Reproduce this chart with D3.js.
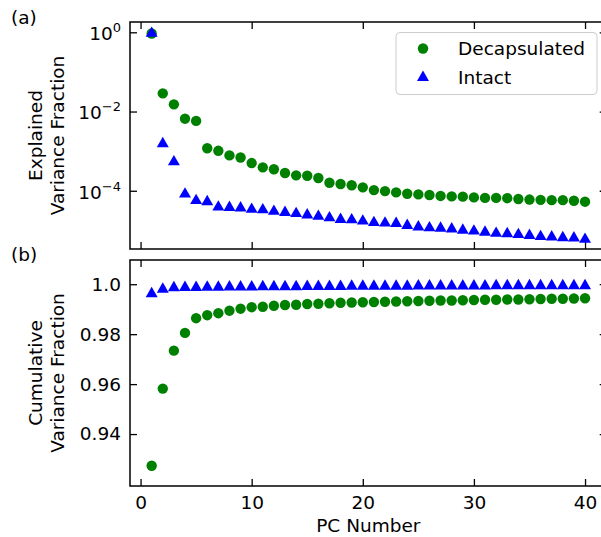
<!DOCTYPE html>
<html>
<head>
<meta charset="utf-8">
<script src="https://cdn.jsdelivr.net/npm/d3@7"></script>
<style>
  body { margin: 0; background: #fff; }
  svg { display: block; font-family: "DejaVu Sans", sans-serif; }
  .tick line { stroke: #000; stroke-width: 1.3; }
</style>
</head>
<body>
<div id="chart"></div>
<script>
// ---- data ----
const pcNumbers = [1, 2, 3, 4, 5, 6, 7, 8, 9, 10, 11, 12, 13, 14, 15, 16, 17, 18, 19, 20,
                   21, 22, 23, 24, 25, 26, 27, 28, 29, 30, 31, 32, 33, 34, 35, 36, 37, 38, 39, 40];

const decapExplained = [0.93, 0.0288, 0.0152, 0.0066, 0.0058, 0.00118, 0.00102, 0.00078, 0.00069, 0.00050,
                        0.00039, 0.00035, 0.00028, 0.000245, 0.00024, 0.00021, 0.000159, 0.000148, 0.000138, 0.000122,
                        0.000104, 0.000098, 0.000091, 0.000084, 0.000081, 0.000078, 0.000074, 0.000072, 0.000071, 0.000068,
                        0.000066, 0.000066, 0.000065, 0.000062, 0.000060, 0.000059, 0.000058, 0.000058, 0.000056, 0.000053];

const intactExplained = [0.9965, 0.00163, 0.00057, 0.000087, 0.000060, 0.000056, 0.000041, 0.000040, 0.000039, 0.000036,
                         0.000035, 0.000032, 0.000030, 0.000028, 0.000026, 0.000024, 0.000022, 0.0000200, 0.0000195, 0.0000182,
                         0.0000166, 0.0000162, 0.0000158, 0.0000141, 0.0000129, 0.0000123, 0.0000120, 0.0000115, 0.0000107, 0.0000102,
                         0.0000095, 0.0000089, 0.0000087, 0.0000083, 0.0000079, 0.0000074, 0.0000072, 0.0000069, 0.0000068, 0.0000063];

const decapCumulative = [0.9273, 0.9582, 0.9734, 0.9805, 0.9864, 0.9876, 0.9884, 0.9894, 0.9902, 0.9908,
                         0.9910, 0.9914, 0.9917, 0.9918, 0.9921, 0.9922, 0.9924, 0.9926, 0.9927, 0.9928,
                         0.9929, 0.9930, 0.9931, 0.9932, 0.9933, 0.9934, 0.9935, 0.9935, 0.9936, 0.9937,
                         0.9938, 0.9938, 0.9939, 0.9939, 0.9940, 0.9941, 0.9942, 0.9942, 0.9943, 0.9944];

const intactCumulative = [0.9966, 0.9984, 0.9990, 0.9991, 0.9991, 0.9992, 0.9992, 0.9993, 0.9993, 0.9993,
                          0.9994, 0.9994, 0.9994, 0.9994, 0.9995, 0.9995, 0.9995, 0.9995, 0.9996, 0.9996,
                          0.9996, 0.9996, 0.9996, 0.9996, 0.9997, 0.9997, 0.9997, 0.9997, 0.9997, 0.9997,
                          0.9997, 0.9998, 0.9998, 0.9998, 0.9998, 0.9998, 0.9998, 0.9998, 0.9998, 0.9998];

const xTicks = [0, 10, 20, 30, 40];
const logTicks = [0, -2, -4];          // exponents shown on panel (a)
const cumTicks = [0.94, 0.96, 0.98, 1.0];
const cumTickLabels = ["0.94", "0.96", "0.98", "1.0"];
const seriesNames = ["Decapsulated", "Intact"];
const seriesColors = ["green", "blue"];

// ---- layout ----
const W = 601, H = 537;
const left = 130, right = 606.7;
const topPanel = { y0: 22, y1: 249 };
const botPanel = { y0: 260, y1: 486 };
const fontSize = 18.5;
const tickLen = 7;

const svg = d3.select("#chart").append("svg")
    .attr("width", W)
    .attr("height", H);

// scales
const x = d3.scaleLinear().domain([-0.95, 41.95]).range([left, right]);
const yLog = d3.scaleLog().domain([Math.pow(10, -5.47), Math.pow(10, 0.26)]).range([topPanel.y1, topPanel.y0]);
const yCum = d3.scaleLinear().domain([0.9192, 1.0097]).range([botPanel.y1, botPanel.y0]);

const triangle = d3.symbol().type(d3.symbolTriangle).size(62);

function drawFrame(panel) {
    svg.append("rect")
        .attr("x", left).attr("y", panel.y0)
        .attr("width", right - left).attr("height", panel.y1 - panel.y0)
        .attr("fill", "none").attr("stroke", "#000").attr("stroke-width", 1.5);
}

function drawXTicks(panel, withLabels) {
    // bottom ticks, pointing in
    const gb = svg.append("g")
        .attr("transform", `translate(0,${panel.y1})`)
        .call(d3.axisBottom(x).tickValues(xTicks).tickSize(-tickLen).tickPadding(10)
            .tickFormat(withLabels ? d3.format("d") : ""));
    gb.select(".domain").remove();
    gb.selectAll("text").attr("font-size", fontSize).attr("fill", "#000")
        .attr("font-family", "DejaVu Sans");
    // top ticks
    const gt = svg.append("g")
        .attr("transform", `translate(0,${panel.y0})`)
        .call(d3.axisTop(x).tickValues(xTicks).tickSize(-tickLen).tickFormat(""));
    gt.select(".domain").remove();
}

function drawPoints(g, xs, ys, yScale, i) {
    if (i === 0) {
        g.selectAll("circle.s" + i)
            .data(xs.map((d, k) => [d, ys[k]]))
            .enter().append("circle")
            .attr("class", "s" + i)
            .attr("cx", d => x(d[0]))
            .attr("cy", d => yScale(d[1]))
            .attr("r", 5.2)
            .attr("fill", seriesColors[i]);
    } else {
        g.selectAll("path.s" + i)
            .data(xs.map((d, k) => [d, ys[k]]))
            .enter().append("path")
            .attr("class", "s" + i)
            .attr("d", triangle)
            .attr("transform", d => `translate(${x(d[0])},${yScale(d[1]) + 1})`)
            .attr("fill", seriesColors[i]);
    }
}

// ---------- panel (a) ----------
drawFrame(topPanel);
drawXTicks(topPanel, false);

const yTickVals = logTicks.map(e => Math.pow(10, e));
const gal = svg.append("g").attr("transform", `translate(${left},0)`)
    .call(d3.axisLeft(yLog).tickValues(yTickVals).tickSize(-tickLen).tickFormat(""));
gal.select(".domain").remove();
const gar = svg.append("g").attr("transform", `translate(${right},0)`)
    .call(d3.axisRight(yLog).tickValues(yTickVals).tickSize(-tickLen).tickFormat(""));
gar.select(".domain").remove();

// 10^n labels
logTicks.forEach(e => {
    const t = svg.append("text")
        .attr("x", left - 9)
        .attr("y", yLog(Math.pow(10, e)))
        .attr("dy", "0.42em")
        .attr("text-anchor", "end")
        .attr("font-size", fontSize)
        .attr("fill", "#000");
    t.append("tspan").text("10");
    t.append("tspan")
        .attr("font-size", 13)
        .attr("dy", -8)
        .text(e === 0 ? "0" : "\u2212" + Math.abs(e));
});

const ga = svg.append("g");
drawPoints(ga, pcNumbers, decapExplained, yLog, 0);
drawPoints(ga, pcNumbers, intactExplained, yLog, 1);

// legend
const lg = svg.append("g");
lg.append("rect")
    .attr("x", 396).attr("y", 32.5).attr("width", 201).attr("height", 62)
    .attr("rx", 4).attr("fill", "#fff").attr("fill-opacity", 0.8)
    .attr("stroke", "#ccc").attr("stroke-width", 1);
lg.append("circle").attr("cx", 423).attr("cy", 48.5).attr("r", 5.2).attr("fill", seriesColors[0]);
lg.append("path").attr("d", triangle).attr("transform", "translate(423,77.5)").attr("fill", seriesColors[1]);
seriesNames.forEach((name, i) => {
    lg.append("text")
        .attr("x", 458).attr("y", 55 + i * 28.5)
        .attr("font-size", fontSize).attr("fill", "#000")
        .text(name);
});

// ---------- panel (b) ----------
drawFrame(botPanel);
drawXTicks(botPanel, true);

const gbl = svg.append("g").attr("transform", `translate(${left},0)`)
    .call(d3.axisLeft(yCum).tickValues(cumTicks).tickSize(-tickLen).tickPadding(9)
        .tickFormat((d, i) => cumTickLabels[i]));
gbl.select(".domain").remove();
gbl.selectAll("text").attr("font-size", fontSize).attr("fill", "#000").attr("font-family", "DejaVu Sans");
const gbr = svg.append("g").attr("transform", `translate(${right},0)`)
    .call(d3.axisRight(yCum).tickValues(cumTicks).tickSize(-tickLen).tickFormat(""));
gbr.select(".domain").remove();

const gbp = svg.append("g");
drawPoints(gbp, pcNumbers, decapCumulative, yCum, 0);
drawPoints(gbp, pcNumbers, intactCumulative, yCum, 1);

// ---------- labels ----------
function yLabel(lines, cy) {
    lines.forEach((line, i) => {
        const lx = 36 + i * 22;
        svg.append("text")
            .attr("transform", `translate(${lx},${cy}) rotate(-90)`)
            .attr("text-anchor", "middle")
            .attr("dy", "0.35em")
            .attr("font-size", fontSize)
            .attr("fill", "#000")
            .text(line);
    });
}
yLabel(["Explained", "Variance Fraction"], (topPanel.y0 + topPanel.y1) / 2);
yLabel(["Cumulative", "Variance Fraction"], (botPanel.y0 + botPanel.y1) / 2);

svg.append("text")
    .attr("x", (left + right) / 2).attr("y", 532)
    .attr("text-anchor", "middle")
    .attr("font-size", fontSize).attr("fill", "#000")
    .text("PC Number");

svg.append("text").attr("x", 11).attr("y", 24)
    .attr("font-size", fontSize).attr("fill", "#000").text("(a)");
svg.append("text").attr("x", 11).attr("y", 261)
    .attr("font-size", fontSize).attr("fill", "#000").text("(b)");
</script>
</body>
</html>
